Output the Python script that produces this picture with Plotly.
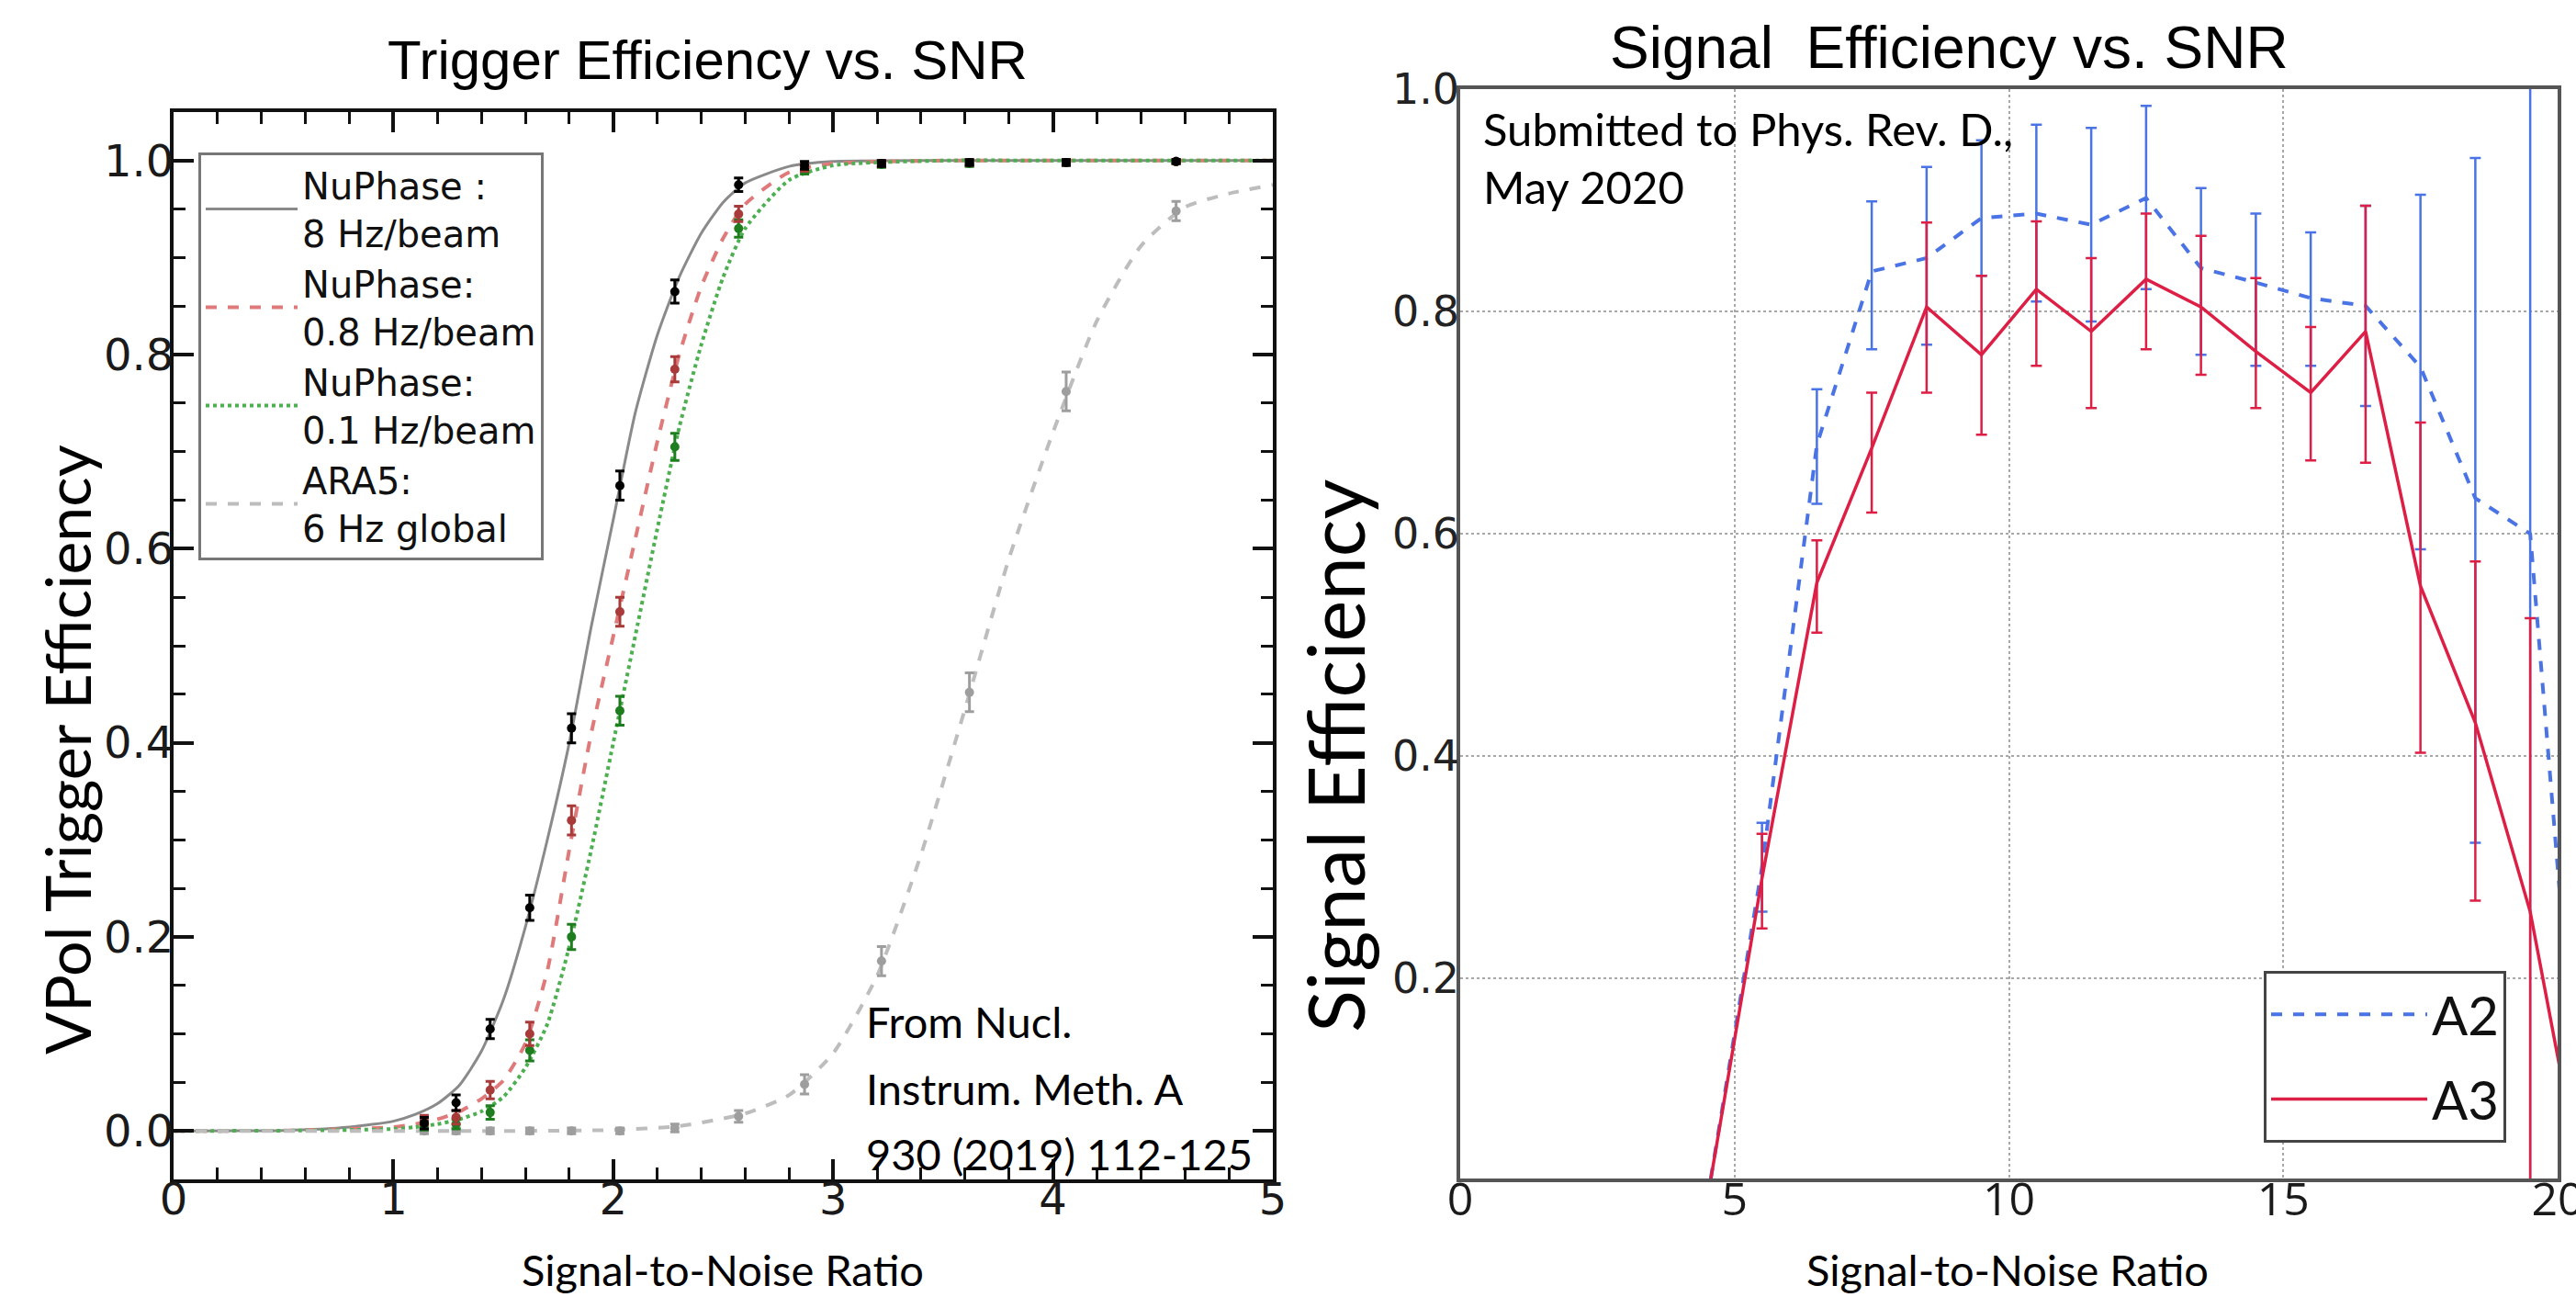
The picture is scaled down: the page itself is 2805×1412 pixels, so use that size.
import plotly.graph_objects as go

# ---------------- Left panel data (Trigger efficiency) ----------------
snr_pts = [1.14, 1.285, 1.44, 1.62, 1.81, 2.03, 2.28, 2.57, 2.87, 3.22, 3.62, 4.06, 4.56]
eff_8hz = [0.008, 0.029, 0.105, 0.23, 0.415, 0.665, 0.865, 0.975, 0.995, 0.997, 0.998, 0.998, 0.999]
err_8hz = [0.006, 0.008, 0.010, 0.013, 0.015, 0.015, 0.012, 0.007, 0.004, 0.003, 0.003, 0.003, 0.002]
eff_08hz = [0.011, 0.014, 0.042, 0.10, 0.32, 0.535, 0.785, 0.945, 0.993, 0.997, 0.998, 0.998, 0.999]
err_08hz = [0.005, 0.007, 0.009, 0.012, 0.015, 0.015, 0.013, 0.008, 0.004, 0.003, 0.003, 0.003, 0.002]
eff_01hz = [0.005, 0.007, 0.019, 0.083, 0.20, 0.433, 0.705, 0.93, 0.99, 0.996, 0.997, 0.998, 0.999]
err_01hz = [0.004, 0.005, 0.007, 0.011, 0.013, 0.015, 0.014, 0.009, 0.004, 0.003, 0.003, 0.003, 0.002]
eff_ara5 = [0.0, 0.0, 0.0, 0.0, 0.0, 0.0, 0.003, 0.015, 0.048, 0.175, 0.452, 0.762, 0.948]
err_ara5 = [0.003, 0.003, 0.003, 0.003, 0.003, 0.003, 0.004, 0.006, 0.010, 0.015, 0.020, 0.020, 0.010]

fit_snr = [0, 0.5, 0.8, 1.0, 1.1, 1.2, 1.3, 1.4, 1.5, 1.6, 1.7, 1.8, 1.9, 2.0,
           2.1, 2.2, 2.3, 2.4, 2.5, 2.6, 2.8, 3.0, 3.5, 4.0, 4.5, 5.0]
fit_8hz = [0, 0.0005, 0.004, 0.01, 0.017, 0.028, 0.047, 0.082, 0.135, 0.21, 0.30, 0.40, 0.52, 0.63,
           0.74, 0.82, 0.88, 0.925, 0.957, 0.977, 0.994, 0.999, 1, 1, 1, 1]
fit_08hz = [0, 0.0003, 0.002, 0.004, 0.007, 0.012, 0.02, 0.033, 0.052, 0.09, 0.165, 0.29, 0.41, 0.51,
            0.61, 0.71, 0.80, 0.87, 0.92, 0.955, 0.988, 0.997, 1, 1, 1, 1]
fit_01hz = [0, 0.0002, 0.001, 0.002, 0.004, 0.007, 0.012, 0.02, 0.035, 0.065, 0.11, 0.19, 0.29, 0.40,
            0.51, 0.62, 0.725, 0.81, 0.88, 0.93, 0.98, 0.995, 1, 1, 1, 1]
fit_ara_snr = [0, 1.0, 1.5, 2.0, 2.3, 2.6, 2.8, 3.0, 3.2, 3.4, 3.6, 3.8, 4.0, 4.2, 4.4, 4.6, 4.8, 5.0]
fit_ara5 = [0, 0, 0, 0.001, 0.005, 0.018, 0.037, 0.08, 0.16, 0.285, 0.435, 0.59, 0.72, 0.835,
            0.912, 0.952, 0.966, 0.975]

legend_names = ["NuPhase :<br>8 Hz/beam", "NuPhase:<br>0.8 Hz/beam",
                "NuPhase:<br>0.1 Hz/beam", "ARA5:<br>6 Hz global"]

# ---------------- Right panel data (Signal efficiency) ----------------
snr_bins = [4.5, 5.5, 6.5, 7.5, 8.5, 9.5, 10.5, 11.5, 12.5, 13.5, 14.5, 15.5, 16.5, 17.5, 18.5, 19.5, 20.5]
a2_eff = [0.0, 0.30, 0.68, 0.836, 0.848, 0.884, 0.888, 0.878, 0.902, 0.839, 0.826, 0.812, 0.805, 0.75, 0.632, 0.60, 0.0]
a2_up = [0.01, 0.04, 0.05, 0.063, 0.082, 0.07, 0.08, 0.087, 0.083, 0.072, 0.062, 0.059, 0.09, 0.155, 0.306, 0.6, 0.01]
a2_dn = [0.01, 0.04, 0.053, 0.07, 0.078, 0.052, 0.079, 0.087, 0.082, 0.078, 0.075, 0.061, 0.09, 0.164, 0.31, 0.62, 0.01]
a3_eff = [0.0, 0.29, 0.556, 0.677, 0.804, 0.761, 0.82, 0.782, 0.829, 0.804, 0.764, 0.727, 0.782, 0.553, 0.43, 0.26, 0.0]
a3_up = [0.01, 0.04, 0.038, 0.05, 0.076, 0.071, 0.061, 0.066, 0.059, 0.064, 0.066, 0.059, 0.113, 0.147, 0.145, 0.264, 0.01]
a3_dn = [0.01, 0.045, 0.045, 0.058, 0.077, 0.072, 0.069, 0.069, 0.063, 0.061, 0.051, 0.061, 0.118, 0.15, 0.16, 0.3, 0.01]

W, H = 2805, 1412
def px(x):
    return x / W
def py(y):
    return 1 - y / H

fig = go.Figure()

# ---- left: fit curves ----
curve_styles = [
    ("#8a8a8a", "solid", 3),
    ("#e07a7a", "dash", 4),
    ("#4caf50", "dot", 4),
    ("#bdbdbd", "dash", 4),
]
fits = [(fit_snr, fit_8hz), (fit_snr, fit_08hz), (fit_snr, fit_01hz), (fit_ara_snr, fit_ara5)]
for i, ((fx, fy), (col, dash, w)) in enumerate(zip(fits, curve_styles)):
    fig.add_trace(go.Scatter(
        x=fx, y=fy, mode="lines", name=legend_names[i],
        line=dict(color=col, dash=dash, width=w, shape="spline", smoothing=0.6),
        xaxis="x", yaxis="y", legend="legend", legendgroup=f"g{i}",
    ))

# ---- left: data points ----
pt_sets = [
    (eff_ara5, err_ara5, "#9e9e9e"),
    (eff_01hz, err_01hz, "#1e7d1e"),
    (eff_08hz, err_08hz, "#a83a3a"),
    (eff_8hz, err_8hz, "#000000"),
]
for ys, es, col in pt_sets:
    fig.add_trace(go.Scatter(
        x=snr_pts, y=ys, mode="markers", showlegend=False,
        marker=dict(color=col, size=10, symbol="circle"),
        error_y=dict(type="data", array=es, color=col, thickness=3, width=5),
        xaxis="x", yaxis="y",
    ))

# ---- right: A2 / A3 ----
fig.add_trace(go.Scatter(
    x=snr_bins, y=a2_eff, mode="lines", name="A2",
    line=dict(color="#4a74e6", dash="dash", width=4),
    error_y=dict(type="data", symmetric=False, array=a2_up, arrayminus=a2_dn,
                 color="#4a74e6", thickness=2.5, width=6),
    xaxis="x2", yaxis="y2", legend="legend2", legendgroup="a2",
))
fig.add_trace(go.Scatter(
    x=snr_bins, y=a3_eff, mode="lines", name="A3",
    line=dict(color="#de1f45", width=3.5),
    error_y=dict(type="data", symmetric=False, array=a3_up, arrayminus=a3_dn,
                 color="#de1f45", thickness=2.5, width=6),
    xaxis="x2", yaxis="y2", legend="legend2", legendgroup="a3",
))

tick_font_l = dict(family="DejaVu Sans", size=48, color="#1a1a1a")
tick_font_r = dict(family="DejaVu Sans", size=46, color="#222222")

fig.update_layout(
    width=W, height=H, autosize=False,
    margin=dict(l=0, r=0, t=0, b=0, pad=0, autoexpand=False),
    paper_bgcolor="white", plot_bgcolor="white",
    xaxis=dict(
        domain=[px(189), px(1386)], range=[0, 5], anchor="y",
        tickvals=[0, 1, 2, 3, 4, 5], ticks="inside", ticklen=22, tickwidth=3.5,
        tickcolor="#111", showline=True, linecolor="#111", linewidth=4, mirror="ticks",
        showgrid=False, zeroline=False, tickfont=tick_font_l, ticklabelstandoff=-24,
        automargin=False, ticklabeloverflow="allow",
        minor=dict(dtick=0.2, tick0=0, ticks="inside", ticklen=13, tickwidth=2.5, tickcolor="#111"),
    ),
    yaxis=dict(
        domain=[py(1284), py(122)], range=[-0.05, 1.05], anchor="x",
        tickvals=[0, 0.2, 0.4, 0.6, 0.8, 1.0], tickformat=".1f",
        ticks="inside", ticklen=22, tickwidth=3.5,
        tickcolor="#111", showline=True, linecolor="#111", linewidth=4, mirror="ticks",
        showgrid=False, zeroline=False, tickfont=tick_font_l, ticklabelstandoff=-14,
        automargin=False, ticklabeloverflow="allow",
        minor=dict(dtick=0.05, tick0=0, ticks="inside", ticklen=13, tickwidth=2.5, tickcolor="#111"),
    ),
    xaxis2=dict(
        domain=[px(1590), px(2785)], range=[0, 20], anchor="y2",
        tickvals=[0, 5, 10, 15, 20], ticks="", showline=True, linecolor="#555",
        linewidth=3.5, mirror=True, showgrid=True, gridcolor="#a8a8a8", gridwidth=1.5,
        griddash="dot", zeroline=False, ticklabelstandoff=-24, automargin=False,
        ticklabeloverflow="allow",
        tickfont=dict(family="Open Sans", size=50, color="#1a1a1a"),
    ),
    yaxis2=dict(
        domain=[py(1283), py(97)], range=[0.02, 1.0], anchor="x2",
        tickvals=[0.2, 0.4, 0.6, 0.8, 1.0], tickformat=".1f", ticks="",
        showline=True, linecolor="#555", linewidth=3.5, mirror=True,
        showgrid=True, gridcolor="#a8a8a8", gridwidth=2, griddash="dot", zeroline=False,
        tickfont=tick_font_r, ticklabelstandoff=-12, automargin=False,
        ticklabeloverflow="allow",
    ),
    legend=dict(
        x=px(216), y=py(166), xanchor="left", yanchor="top",
        bgcolor="white", bordercolor="#777", borderwidth=3,
        font=dict(family="DejaVu Sans", size=40, color="#111"),
        tracegroupgap=0, itemwidth=100,
    ),
    legend2=dict(
        x=px(2465), y=py(1057), xanchor="left", yanchor="top",
        bgcolor="white", bordercolor="#444", borderwidth=3,
        font=dict(family="Lato", size=58, color="#111"),
        tracegroupgap=14, itemwidth=170,
    ),
    showlegend=True,
)

ann_font = dict(family="Lato", color="#000")
annotations = [
    dict(text="Trigger Efficiency vs. SNR", x=px(771), y=py(66),
         font=dict(family="Liberation Sans", size=60, color="#000")),
    dict(text="Signal\u00a0 Efficiency vs. SNR", x=px(2122), y=py(52),
         font=dict(family="Liberation Sans", size=64, color="#000")),
    dict(text="VPol Trigger Efficiency", x=px(72), y=py(816), textangle=-90,
         font=dict(ann_font, size=68)),
    dict(text="Signal Efficiency", x=px(1453), y=py(823), textangle=-90,
         font=dict(ann_font, size=85)),
    dict(text="Signal-to-Noise Ratio", x=px(787), y=py(1382),
         font=dict(ann_font, size=47)),
    dict(text="Signal-to-Noise Ratio", x=px(2186), y=py(1382),
         font=dict(ann_font, size=47)),
    dict(text="From Nucl.", x=px(941), y=py(1112), xanchor="left", font=dict(ann_font, size=47)),
    dict(text="Instrum. Meth. A", x=px(941), y=py(1185), xanchor="left", font=dict(ann_font, size=47)),
    dict(text="930 (2019) 112-125", x=px(941), y=py(1256), xanchor="left", font=dict(ann_font, size=47)),
    dict(text="Submitted to Phys. Rev. D.,", x=px(1613), y=py(140), xanchor="left",
         font=dict(ann_font, size=49)),
    dict(text="May 2020", x=px(1613), y=py(203), xanchor="left", font=dict(ann_font, size=49)),
]
for a in annotations:
    a.setdefault("xanchor", "center")
    a.setdefault("yanchor", "middle")
    a.update(xref="paper", yref="paper", showarrow=False)
fig.update_layout(annotations=annotations)

fig.write_html("out.html", config={"displayModeBar": False},
               post_script="document.body.style.margin='0px';")
